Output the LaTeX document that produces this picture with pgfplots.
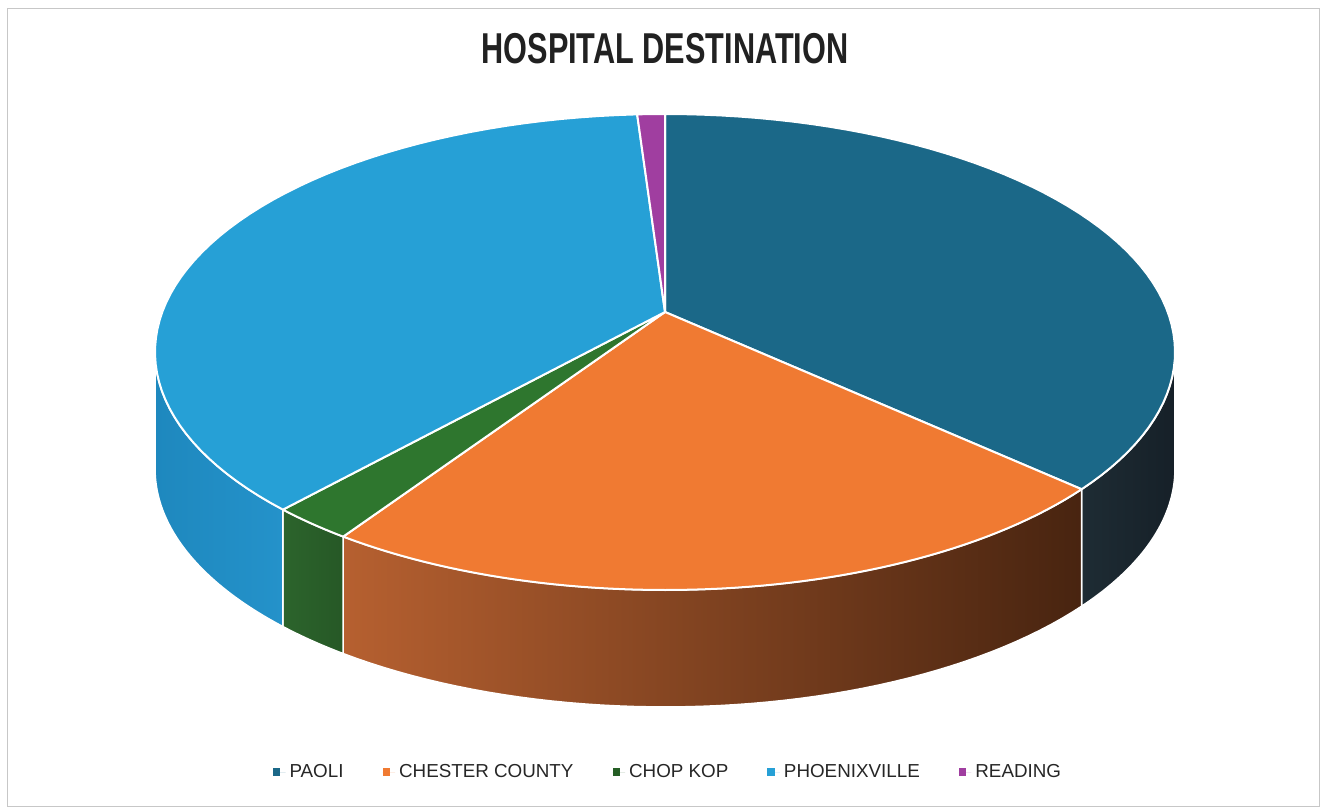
\documentclass[border=0pt]{standalone}
\usepackage{pgfplots}
\pgfplotsset{compat=1.18}
\usepackage{fontspec}
\setmainfont{Liberation Sans}
\definecolor{cPaoli}{RGB}{27,104,136}
\definecolor{cChester}{RGB}{240,122,50}
\definecolor{cChop}{RGB}{46,118,46}
\definecolor{cPhx}{RGB}{38,160,214}
\definecolor{cRead}{RGB}{160,62,160}
\definecolor{sPaoliL}{RGB}{30,44,52}
\definecolor{sPaoliR}{RGB}{22,32,40}
\definecolor{sChesL}{RGB}{182,96,48}
\definecolor{sChesR}{RGB}{72,36,16}
\definecolor{sChopL}{RGB}{44,100,44}
\definecolor{sChopR}{RGB}{38,88,38}
\definecolor{sPhxL}{RGB}{30,136,190}
\definecolor{sPhxR}{RGB}{36,146,202}
% data: counts per hospital
\def\vA{40}% PAOLI
\def\vB{30}% CHESTER COUNTY
\def\vC{3}%  CHOP KOP
\def\vD{41}% PHOENIXVILLE
\def\vE{1}%  READING
% geometry (pixel units)
\def\cx{665}\def\cy{352}\def\rx{510}\def\ry{238}\def\ax{665}\def\ay{312}\def\dep{117}
\newcommand\topslice[3]{%
 \addplot[fill=#3, draw=white, line width=1pt, line join=round, variable=\t, samples at={-1,0,1,...,60,61}, forget plot]
  ({(\t<0 || \t>60) ? \ax : \cx+\rx*sin(#1+(#2-#1)*\t/60)},
   {(\t<0 || \t>60) ? \ay : \cy-\ry*cos(#1+(#2-#1)*\t/60)});
}
\newcommand\sideslice[4]{%
 \addplot[left color=#3, right color=#4, draw=white, line width=0.8pt, line join=round, variable=\t, samples at={0,1,...,102}, forget plot]
  ({\cx+\rx*sin( (\t<=50) ? (#1+(#2-#1)*\t/50) : ((\t<=101) ? (#2-(#2-#1)*(\t-51)/50) : #1) )},
   {\cy-\ry*cos( (\t<=50) ? (#1+(#2-#1)*\t/50) : ((\t<=101) ? (#2-(#2-#1)*(\t-51)/50) : #1) ) + (((\t>50) && (\t<=101)) ? \dep : 0)});
}
\begin{document}
\begin{tikzpicture}
\pgfmathsetmacro\tot{\vA+\vB+\vC+\vD+\vE}
\pgfmathsetmacro\aB{\vA/\tot*360}
\pgfmathsetmacro\aC{(\vA+\vB)/\tot*360}
\pgfmathsetmacro\aD{(\vA+\vB+\vC)/\tot*360}
\pgfmathsetmacro\aE{(\vA+\vB+\vC+\vD)/\tot*360}
\begin{axis}[
  scale only axis, width=663pt, height=404pt,
  xmin=0, xmax=1326, ymin=0, ymax=808, y dir=reverse,
  hide axis, clip=false,
  legend columns=5,
  legend style={at={(axis cs:669,772)}, anchor=center, draw=none, fill=none,
    font=\fontsize{9.4}{11}\selectfont, text=black!85,
    /tikz/every even column/.append style={column sep=17.5pt}},
  legend image code/.code={\fill (0pt,-1.8pt) rectangle (3.6pt,1.8pt); \path (0pt,0pt) -- (6.3pt,0pt);},
]
% canvas
\path (axis cs:0,0) rectangle (axis cs:1326,808);
% frame
\draw[black!22, line width=0.5pt] (axis cs:7,9) rectangle (axis cs:1319,806);
% title
\node[font=\bfseries\fontsize{21.6}{24}\selectfont, text=black!87] at (axis cs:665,49) {\scalebox{0.71}[1]{HOSPITAL DESTINATION}};
% side walls
\sideslice{90}{\aB}{sPaoliL}{sPaoliR}
\sideslice{\aB}{\aC}{sChesL}{sChesR}
\sideslice{\aC}{\aD}{sChopL}{sChopR}
\sideslice{\aD}{270}{sPhxL}{sPhxR}
% top faces
\topslice{0}{\aB}{cPaoli}
\topslice{\aB}{\aC}{cChester}
\topslice{\aC}{\aD}{cChop}
\topslice{\aD}{\aE}{cPhx}
\topslice{\aE}{360}{cRead}
% legend
\addlegendimage{fill=cPaoli, draw=none}
\addlegendentry{PAOLI}
\addlegendimage{fill=cChester, draw=none}
\addlegendentry{CHESTER COUNTY}
\addlegendimage{fill=cChop!80!black, draw=none}
\addlegendentry{CHOP KOP}
\addlegendimage{fill=cPhx, draw=none}
\addlegendentry{PHOENIXVILLE}
\addlegendimage{fill=cRead, draw=none}
\addlegendentry{READING}
\end{axis}
\end{tikzpicture}
\end{document}
